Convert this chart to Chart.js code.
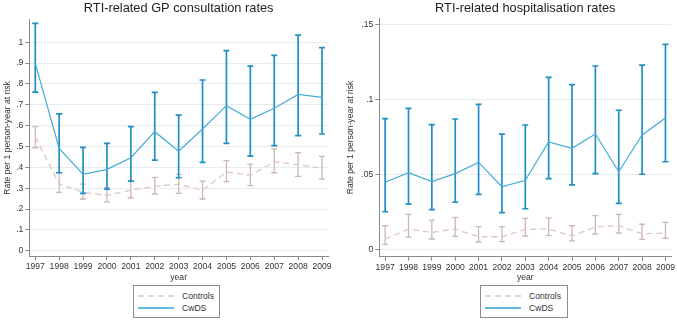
<!DOCTYPE html>
<html>
<head>
<meta charset="utf-8">
<script src="https://cdn.jsdelivr.net/npm/chart.js@4.4.1/dist/chart.umd.min.js"></script>
<style>
  html, body { margin: 0; padding: 0; background: #ffffff; }
  body { width: 677px; height: 320px; position: relative; overflow: hidden; font-family: "Liberation Sans", Arial, sans-serif; }
  .panel { position: absolute; top: 0; height: 285px; }
  .legend { position: absolute; border: 1px solid #8c8c8c; box-sizing: border-box; background: #fff; font-size: 8.6px; color: #333; }
  .legend .row { position: absolute; left: 4px; height: 12px; display: flex; align-items: center; }
  .legend svg { display: block; }
  .legend span { margin-left: 8px; }
</style>
</head>
<body>
<div class="panel" style="left:0;width:338px;"><canvas id="c1" width="338" height="285"></canvas></div>
<div class="panel" style="left:338px;width:339px;"><canvas id="c2" width="339" height="285"></canvas></div>

<div class="legend" style="left:133px;top:285px;width:87px;height:33px;">
  <div class="row" style="top:4px;"><svg width="36" height="4"><line x1="0" y1="2" x2="36" y2="2" stroke="#dcc6c6" stroke-width="1.3" stroke-dasharray="6,4"/></svg><span>Controls</span></div>
  <div class="row" style="top:16px;"><svg width="36" height="4"><line x1="0" y1="2" x2="36" y2="2" stroke="#62bbe0" stroke-width="2"/></svg><span>CwDS</span></div>
</div>
<div class="legend" style="left:480px;top:285px;width:88px;height:33px;">
  <div class="row" style="top:4px;"><svg width="36" height="4"><line x1="0" y1="2" x2="36" y2="2" stroke="#dcc6c6" stroke-width="1.3" stroke-dasharray="6,4"/></svg><span>Controls</span></div>
  <div class="row" style="top:16px;"><svg width="36" height="4"><line x1="0" y1="2" x2="36" y2="2" stroke="#62bbe0" stroke-width="2"/></svg><span>CwDS</span></div>
</div>

<script>
// ---- Data ----
const years = [1997, 1998, 1999, 2000, 2001, 2002, 2003, 2004, 2005, 2006, 2007, 2008, 2009];

// GP consultation rates
const gpCwdsRate  = [0.899, 0.491, 0.366, 0.390, 0.446, 0.571, 0.477, 0.584, 0.696, 0.630, 0.683, 0.750, 0.736];
const gpCwdsLow   = [0.761, 0.374, 0.275, 0.295, 0.334, 0.435, 0.350, 0.424, 0.515, 0.454, 0.504, 0.552, 0.560];
const gpCwdsHigh  = [1.091, 0.656, 0.496, 0.515, 0.595, 0.760, 0.650, 0.819, 0.960, 0.886, 0.937, 1.034, 0.974];
const gpCtrlRate  = [0.545, 0.320, 0.280, 0.266, 0.290, 0.309, 0.319, 0.290, 0.378, 0.362, 0.426, 0.413, 0.395];
const gpCtrlLow   = [0.494, 0.280, 0.248, 0.234, 0.254, 0.272, 0.275, 0.248, 0.331, 0.312, 0.374, 0.357, 0.343];
const gpCtrlHigh  = [0.595, 0.374, 0.319, 0.304, 0.334, 0.352, 0.366, 0.334, 0.432, 0.415, 0.489, 0.470, 0.453];

// Hospitalisation rates
const hpCwdsRate  = [0.0450, 0.0513, 0.0454, 0.0507, 0.0582, 0.0420, 0.0463, 0.0717, 0.0675, 0.0770, 0.0520, 0.0764, 0.0877];
const hpCwdsLow   = [0.0254, 0.0305, 0.0268, 0.0317, 0.0370, 0.0248, 0.0274, 0.0474, 0.0432, 0.0507, 0.0310, 0.0503, 0.0586];
const hpCwdsHigh  = [0.0872, 0.0940, 0.0832, 0.0870, 0.0967, 0.0770, 0.0830, 0.1147, 0.1098, 0.1222, 0.0928, 0.1228, 0.1366];
const hpCtrlRate  = [0.0073, 0.0139, 0.0117, 0.0139, 0.0088, 0.0088, 0.0137, 0.0139, 0.0093, 0.0153, 0.0161, 0.0108, 0.0113];
const hpCtrlLow   = [0.0038, 0.0086, 0.0073, 0.0091, 0.0053, 0.0055, 0.0093, 0.0095, 0.0060, 0.0106, 0.0113, 0.0071, 0.0078];
const hpCtrlHigh  = [0.0161, 0.0237, 0.0199, 0.0217, 0.0155, 0.0155, 0.0210, 0.0214, 0.0161, 0.0228, 0.0237, 0.0171, 0.0184];

const gpYTicks = [0, 0.1, 0.2, 0.3, 0.4, 0.5, 0.6, 0.7, 0.8, 0.9, 1.0];
const hpYTicks = [0, 0.05, 0.1, 0.15];

const titles = ["RTI-related GP consultation rates", "RTI-related hospitalisation rates"];
const yTitle = "Rate per 1 person-year at risk";
const xTitle = "year";
const seriesNames = ["Controls", "CwDS"];

// ---- Styles ----
const FONT = '"Liberation Sans", Arial, sans-serif';
const C_CWDS_LINE = '#45aad8';
const C_CWDS_ERR = '#2090c4';
const C_CTRL_LINE = '#dcc6c6';
const C_CTRL_ERR = '#cdb6b6';

function pts(vals) { return years.map((y, i) => ({ x: y, y: vals[i] })); }
// vertical whisker segments: lo -> hi, separated by gaps
function whiskers(lo, hi) {
  const out = [];
  years.forEach((y, i) => {
    out.push({ x: y, y: lo[i] });
    out.push({ x: y, y: hi[i] });
    out.push({ x: y, y: null });
  });
  return out;
}
function fmtY(v) {
  const n = Number(v.toFixed(4));
  if (n === 0) return '0';
  return String(n).replace(/^0\./, '.');
}

function buildChart(id, cfg) {
  const datasets = [
    // CwDS (drawn on top)
    { label: seriesNames[1], data: pts(cfg.cwds), borderColor: C_CWDS_LINE, borderWidth: 1.2, pointRadius: 0, fill: false, tension: 0, order: 1 },
    { label: 'cwds-lo', data: pts(cfg.cwdsLo), showLine: false, pointStyle: 'line', pointRadius: 3, pointBorderColor: C_CWDS_ERR, pointBorderWidth: 1.7, order: 2 },
    { label: 'cwds-hi', data: pts(cfg.cwdsHi), showLine: false, pointStyle: 'line', pointRadius: 3, pointBorderColor: C_CWDS_ERR, pointBorderWidth: 1.7, order: 2 },
    { label: 'cwds-err', data: whiskers(cfg.cwdsLo, cfg.cwdsHi), borderColor: C_CWDS_ERR, borderWidth: 1.7, pointRadius: 0, spanGaps: false, order: 3 },
    // Controls
    { label: seriesNames[0], data: pts(cfg.ctrl), borderColor: C_CTRL_LINE, borderWidth: 1.3, borderDash: [6, 4], pointRadius: 0, fill: false, tension: 0, order: 4 },
    { label: 'ctrl-lo', data: pts(cfg.ctrlLo), showLine: false, pointStyle: 'line', pointRadius: 3, pointBorderColor: C_CTRL_ERR, pointBorderWidth: 1.3, order: 5 },
    { label: 'ctrl-hi', data: pts(cfg.ctrlHi), showLine: false, pointStyle: 'line', pointRadius: 3, pointBorderColor: C_CTRL_ERR, pointBorderWidth: 1.3, order: 5 },
    { label: 'ctrl-err', data: whiskers(cfg.ctrlLo, cfg.ctrlHi), borderColor: C_CTRL_ERR, borderWidth: 1.3, pointRadius: 0, spanGaps: false, order: 6 }
  ];

  return new Chart(document.getElementById(id), {
    type: 'line',
    data: { datasets },
    options: {
      responsive: false,
      animation: false,
      events: [],
      layout: { padding: { left: 0, right: cfg.padRight, top: 0, bottom: 0 } },
      plugins: {
        legend: { display: false },
        tooltip: { enabled: false },
        title: {
          display: true, text: cfg.title, color: '#1f1f1f', fullSize: false,
          font: { family: FONT, size: 12.8, weight: 'normal' },
          padding: { top: 1, bottom: cfg.titlePadBottom }
        }
      },
      scales: {
        x: {
          type: 'linear', min: 1996.75, max: 2009.25, offset: false,
          afterBuildTicks: s => { s.ticks = years.map(v => ({ value: v })); },
          afterFit: s => { s.height = cfg.xHeight; },
          ticks: { autoSkip: false, maxRotation: 0, color: '#333', padding: 1.5, font: { family: FONT, size: 8.6 }, callback: v => String(v) },
          grid: { drawOnChartArea: false, offset: false, tickLength: 4, tickColor: '#8a8a8a', tickWidth: 1 },
          border: { color: '#8a8a8a', width: 1 },
          title: { display: true, text: xTitle, color: '#333', font: { family: FONT, size: 8.6 }, padding: { top: 0, bottom: 2.5 } }
        },
        y: {
          type: 'linear', min: cfg.yMin, max: cfg.yMax,
          afterBuildTicks: s => { s.ticks = cfg.yTicks.map(v => ({ value: v })); },
          afterFit: s => { s.width = cfg.yWidth; },
          ticks: { autoSkip: false, color: '#333', padding: 2, font: { family: FONT, size: 8.6 }, callback: v => fmtY(v) },
          grid: { color: '#e6edf1', lineWidth: 1, tickLength: 4, tickColor: '#8a8a8a', tickWidth: 1 },
          border: { color: '#8a8a8a', width: 1 },
          title: { display: true, text: yTitle, color: '#333', font: { family: FONT, size: 8.6 }, padding: { top: cfg.yTitlePad, bottom: 0 } }
        }
      }
    }
  });
}

buildChart('c1', {
  title: titles[0],
  cwds: gpCwdsRate, cwdsLo: gpCwdsLow, cwdsHi: gpCwdsHigh,
  ctrl: gpCtrlRate, ctrlLo: gpCtrlLow, ctrlHi: gpCtrlHigh,
  yTicks: gpYTicks, yMin: -0.0254, yMax: 1.107,
  yWidth: 29.3, yTitlePad: 2, padRight: 10, xHeight: 29, titlePadBottom: 3.6
});

buildChart('c2', {
  title: titles[1],
  cwds: hpCwdsRate, cwdsLo: hpCwdsLow, cwdsHi: hpCwdsHigh,
  ctrl: hpCtrlRate, ctrlLo: hpCtrlLow, ctrlHi: hpCtrlHigh,
  yTicks: hpYTicks, yMin: -0.00445, yMax: 0.1539,
  yWidth: 41.3, yTitlePad: 7.5, padRight: 5.3, xHeight: 28.3, titlePadBottom: 1.9
});
</script>
</body>
</html>
